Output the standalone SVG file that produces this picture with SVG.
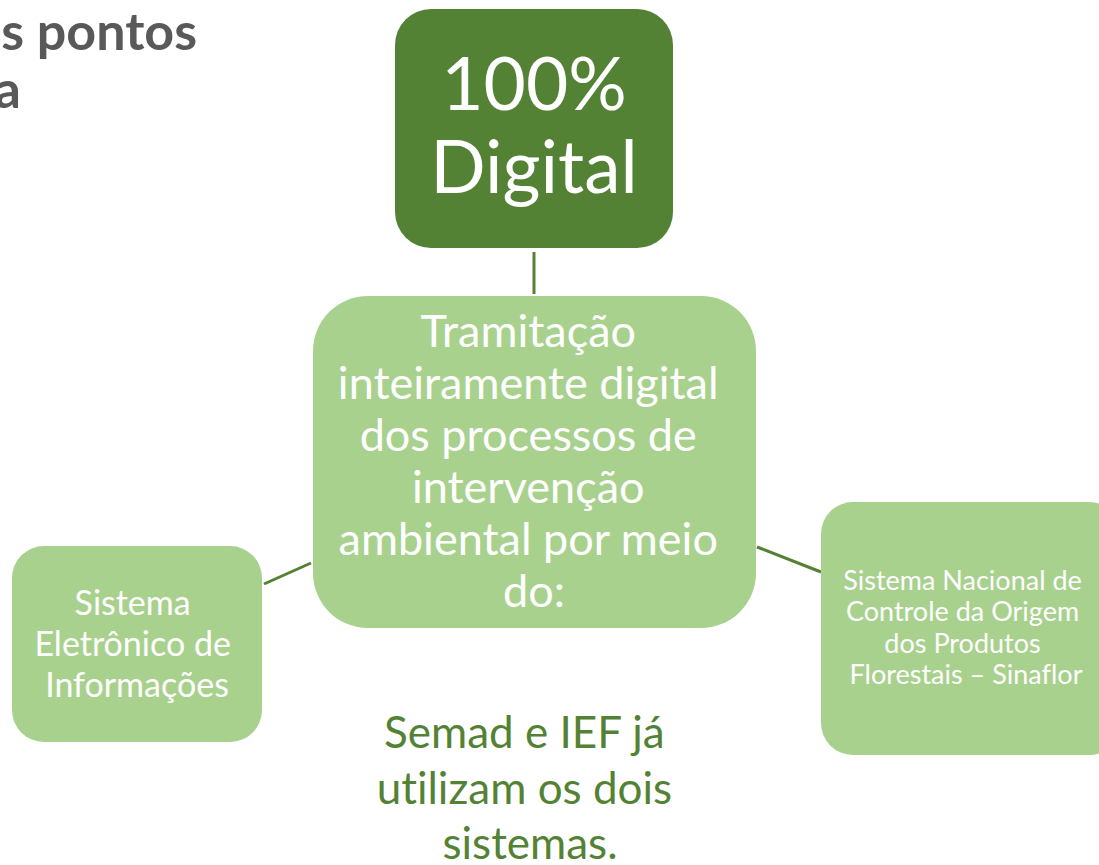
<svg xmlns="http://www.w3.org/2000/svg" width="1099" height="865" viewBox="0 0 1099 865">
<style>
text{font-variant-ligatures:none}
.t{font-family:Lato,"Open Sans","Noto Sans",sans-serif;text-anchor:middle;fill:#FFFFFF}
.dark{fill:#548235}
.light{fill:#A9D18E}
.conn{stroke:#548235;stroke-width:3;fill:none}
.ttl{font-family:Lato,"Open Sans",sans-serif;font-weight:bold;font-size:52px;fill:#595959;text-anchor:end}
</style>
<rect width="1099" height="865" fill="#FFFFFF"/>
<g id="title">
<text class="ttl" x="197" y="50">s pontos</text>
<text class="ttl" x="21" y="108">a</text>
</g>
<g id="connectors">
<line class="conn" x1="534" y1="252" x2="534" y2="294"/>
<line class="conn" x1="264" y1="584" x2="311" y2="563"/>
<line class="conn" x1="757" y1="547" x2="821" y2="572"/>
</g>
<g id="node-digital">
<rect class="dark" x="395" y="9" width="278" height="239" rx="36"/>
<text class="t" x="534" y="110" font-size="73">100%</text>
<text class="t" x="534" y="193" font-size="73">Digital</text>
</g>
<g id="node-tramitacao">
<rect class="light" x="313" y="296" width="443" height="332" rx="55"/>
<text class="t" font-size="45">
<tspan x="534" y="347">Tramitação</tspan>
<tspan x="534" y="399">inteiramente digital</tspan>
<tspan x="534" y="451">dos processos de</tspan>
<tspan x="534" y="503">intervenção</tspan>
<tspan x="534" y="555">ambiental por meio</tspan>
<tspan x="534" y="607">do:</tspan>
</text>
</g>
<g id="node-sei">
<rect class="light" x="12" y="546" width="250" height="196" rx="32"/>
<text class="t" font-size="34">
<tspan x="137" y="615">Sistema</tspan>
<tspan x="137" y="656">Eletrônico de</tspan>
<tspan x="137" y="697">Informações</tspan>
</text>
</g>
<g id="node-sinaflor">
<rect class="light" x="821" y="502" width="300" height="253" rx="32"/>
<text class="t" font-size="27">
<tspan x="966" y="590">Sistema Nacional de</tspan>
<tspan x="966" y="621">Controle da Origem</tspan>
<tspan x="966" y="653">dos Produtos</tspan>
<tspan x="966" y="684">Florestais – Sinaflor</tspan>
</text>
</g>
<g id="note">
<text class="t" font-size="44" style="fill:#548235">
<tspan x="530" y="748">Semad e IEF já</tspan>
<tspan x="530" y="804">utilizam os dois</tspan>
<tspan x="530" y="859">sistemas.</tspan>
</text>
</g>
</svg>
